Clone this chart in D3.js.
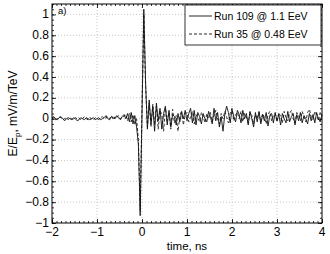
<!DOCTYPE html>
<html>
<head>
<meta charset="utf-8">
<script src="https://cdn.jsdelivr.net/npm/d3@7"></script>
<style>
  body { margin: 0; background: white; }
  text { font-family: "Liberation Sans", Arial, helvetica, sans-serif; }
</style>
</head>
<body>
<svg id="svg-fig"></svg>
<script>

const width = 330;
const height = 254;

// sample spacing of both traces, ns
const t0 = -2;
const dt = 0.04;

const run109 = [
  0.01, 0.02, 0.00, -0.01, 0.01, 0.02, 0.00, -0.02, 0.00, 0.01,
  0.00, -0.01, 0.01, 0.00, -0.02, -0.01, 0.01, 0.00, -0.01, 0.01,
  0.00, -0.01, 0.00, 0.01, -0.01, 0.00, 0.01, -0.01, 0.00, 0.01,
  0.03, 0.00, -0.01, 0.02, 0.01, 0.00, 0.03, 0.01, -0.01, 0.02,
  0.04, 0.00, 0.05, -0.03, 0.06, -0.05, 0.03, -0.08, -0.25,
  -0.93, 0.05, 1.05, 0.35, -0.10,
  0.18, -0.05, 0.12, -0.12, 0.15, -0.02, 0.10, -0.10, 0.05, 0.12,
  -0.06, 0.08, -0.08, 0.04, 0.02, -0.06, 0.05, -0.03, 0.06, 0.00,
  0.08, -0.02, 0.05, 0.10, -0.04, 0.08, -0.06, 0.06, 0.02, -0.05,
  0.05, 0.00, -0.03, 0.07, 0.02, -0.05, 0.10, -0.02, 0.06, -0.08,
  0.02, -0.12, 0.04, 0.12, 0.06, -0.04, 0.09, 0.02, -0.03, 0.08,
  0.04, -0.04, 0.08, 0.00, 0.05, -0.06, 0.07, 0.00, -0.08, 0.06,
  -0.03, 0.07, -0.05, 0.04, -0.02, 0.06, -0.07, 0.03, 0.05, -0.04,
  0.06, -0.02, 0.04, -0.06, 0.05, 0.00, -0.04, 0.07, -0.03, 0.02,
  0.05, -0.06, 0.04, -0.02, 0.06, -0.04, 0.03, 0.00, -0.05, 0.05,
  -0.02, 0.04, -0.04, 0.06, 0.00, -0.03, 0.04
];

const run35 = [
  0.00, 0.01, -0.01, 0.00, 0.02, 0.01, -0.01, 0.00, 0.01, -0.01,
  0.01, 0.00, -0.01, 0.01, 0.00, 0.01, -0.01, 0.00, 0.02, 0.00,
  -0.01, 0.01, 0.00, -0.01, 0.01, 0.00, -0.01, 0.01, 0.02, 0.00,
  0.01, 0.02, 0.00, 0.03, -0.01, 0.02, 0.01, 0.03, 0.00, 0.02,
  0.02, 0.04, -0.02, 0.05, -0.03, 0.04, -0.06, 0.00, -0.20,
  -0.88, 0.10, 1.00, 0.30, -0.08,
  0.15, -0.08, 0.14, -0.06, 0.12, -0.10, 0.08, 0.04, -0.12, 0.10,
  -0.02, 0.06, -0.10, 0.09, -0.04, 0.03, -0.12, 0.02, 0.08, -0.06,
  0.04, 0.06, -0.03, 0.02, 0.07, -0.05, 0.04, 0.01, -0.03, 0.06,
  0.02, -0.04, 0.05, 0.00, 0.06, -0.03, 0.03, 0.08, 0.00, -0.05,
  0.05, 0.00, 0.07, 0.02, -0.04, 0.05, 0.10, -0.02, 0.04, 0.06,
  0.00, 0.07, -0.03, 0.05, 0.02, -0.04, 0.06, 0.03, -0.05, 0.04,
  0.00, 0.06, -0.03, 0.05, 0.01, -0.05, 0.04, 0.07, -0.02, 0.03,
  0.05, -0.03, 0.06, 0.02, -0.04, 0.07, 0.01, -0.02, 0.05, 0.08,
  0.00, -0.04, 0.06, 0.03, -0.02, 0.07, 0.02, -0.03, 0.06, 0.09,
  0.02, -0.01, 0.07, 0.04, -0.02, 0.06, 0.03
];

const xTicks = [-2, -1, 0, 1, 2, 3, 4];
const yTicks = [-1, -0.8, -0.6, -0.4, -0.2, 0, 0.2, 0.4, 0.6, 0.8, 1];
const legendLabels = ['Run 109 @ 1.1 EeV', 'Run 35 @ 0.48 EeV'];

const mL = 52, mR = 322, mT = 4, mB = 223;

const x = d3.scaleLinear().domain([-2, 4]).range([mL, mR]);
const y = d3.scaleLinear().domain([-1, 1.1]).range([mB, mT]);

const svg = d3.select('#svg-fig')
  .attr('width', width)
  .attr('height', height);

const fmt = v => (v < 0 ? '\u2212' : '') + d3.format('~g')(Math.abs(v));

// grid
svg.append('g')
  .selectAll('line')
  .data(xTicks.slice(1, -1))
  .join('line')
  .attr('x1', d => x(d)).attr('x2', d => x(d))
  .attr('y1', mT).attr('y2', mB)
  .style('stroke', '#b8b8b8')
  .style('stroke-width', 0.8)
  .style('stroke-dasharray', '1,2');

svg.append('g')
  .selectAll('line')
  .data(yTicks.slice(1))
  .join('line')
  .attr('x1', mL).attr('x2', mR)
  .attr('y1', d => y(d)).attr('y2', d => y(d))
  .style('stroke', '#b8b8b8')
  .style('stroke-width', 0.8)
  .style('stroke-dasharray', '1,2');

// traces
const line = d3.line()
  .x((d, i) => x(t0 + i * dt))
  .y(d => y(d));

svg.append('path')
  .datum(run35)
  .attr('d', line)
  .style('fill', 'none')
  .style('stroke', '#333')
  .style('stroke-width', 1)
  .style('stroke-dasharray', '3,2');

svg.append('path')
  .datum(run109)
  .attr('d', line)
  .style('fill', 'none')
  .style('stroke', '#111')
  .style('stroke-width', 0.9);

// axes: major + minor ticks on all four sides, inward
const xMinor = d3.range(-2, 4.001, 0.1);
const yMinor = d3.range(-1, 1.1001, 0.05);

function ticks(axis, sc, vals, size) {
  return axis(sc).tickValues(vals).tickSize(size).tickFormat('');
}

svg.append('g').attr('transform', `translate(0,${mB})`)
  .call(ticks(d3.axisTop, x, xMinor, 2));
svg.append('g').attr('transform', `translate(0,${mT})`)
  .call(ticks(d3.axisBottom, x, xMinor, 2));
svg.append('g').attr('transform', `translate(${mL},0)`)
  .call(ticks(d3.axisRight, y, yMinor, 2));
svg.append('g').attr('transform', `translate(${mR},0)`)
  .call(ticks(d3.axisLeft, y, yMinor, 2));

svg.append('g').attr('transform', `translate(0,${mB})`)
  .call(ticks(d3.axisTop, x, xTicks, 4));
svg.append('g').attr('transform', `translate(0,${mT})`)
  .call(ticks(d3.axisBottom, x, xTicks, 4));
svg.append('g').attr('transform', `translate(${mL},0)`)
  .call(ticks(d3.axisRight, y, yTicks, 4));
svg.append('g').attr('transform', `translate(${mR},0)`)
  .call(ticks(d3.axisLeft, y, yTicks, 4));

svg.selectAll('.domain').remove();
svg.selectAll('.tick line').style('stroke', 'black').style('stroke-width', 0.8);

svg.append('rect')
  .attr('x', mL).attr('y', mT)
  .attr('width', mR - mL).attr('height', mB - mT)
  .style('fill', 'none')
  .style('stroke', 'black')
  .style('stroke-width', 1);

// tick labels
svg.append('g')
  .selectAll('text')
  .data(xTicks)
  .join('text')
  .attr('x', d => x(d))
  .attr('y', mB + 13)
  .attr('text-anchor', 'middle')
  .style('font-size', '12px')
  .text(fmt);

svg.append('g')
  .selectAll('text')
  .data(yTicks)
  .join('text')
  .attr('x', mL - 3)
  .attr('y', d => y(d) + 3.5)
  .attr('text-anchor', 'end')
  .style('font-size', '12px')
  .text(fmt);

// axis titles
svg.append('text')
  .attr('x', (mL + mR) / 2)
  .attr('y', 250)
  .attr('text-anchor', 'middle')
  .style('font-size', '11.5px')
  .text('time, ns');

const ylab = svg.append('text')
  .attr('transform', `translate(17,${(mT + mB) / 2}) rotate(-90)`)
  .attr('text-anchor', 'middle')
  .style('font-size', '12px');
ylab.append('tspan').text('E/E');
ylab.append('tspan').attr('dy', 3).style('font-size', '8px').text('p');
ylab.append('tspan').attr('dy', -3).text(', mV/m/TeV');

svg.append('text')
  .attr('x', mL + 6)
  .attr('y', 14)
  .style('font-size', '9.5px')
  .text('a)');

// legend
const lg = svg.append('g');
lg.append('rect')
  .attr('x', 185).attr('y', 5)
  .attr('width', 136).attr('height', 40)
  .style('fill', 'white')
  .style('stroke', 'black')
  .style('stroke-width', 0.8);

const dashes = ['none', '3,2'];
legendLabels.forEach((s, i) => {
  const yy = 16 + i * 18;
  lg.append('line')
    .attr('x1', 189).attr('x2', 212)
    .attr('y1', yy).attr('y2', yy)
    .style('stroke', '#111')
    .style('stroke-width', 0.9)
    .style('stroke-dasharray', dashes[i]);
  lg.append('text')
    .attr('x', 214)
    .attr('y', yy + 4)
    .style('font-size', '10.5px')
    .text(s);
});

</script>
</body>
</html>
